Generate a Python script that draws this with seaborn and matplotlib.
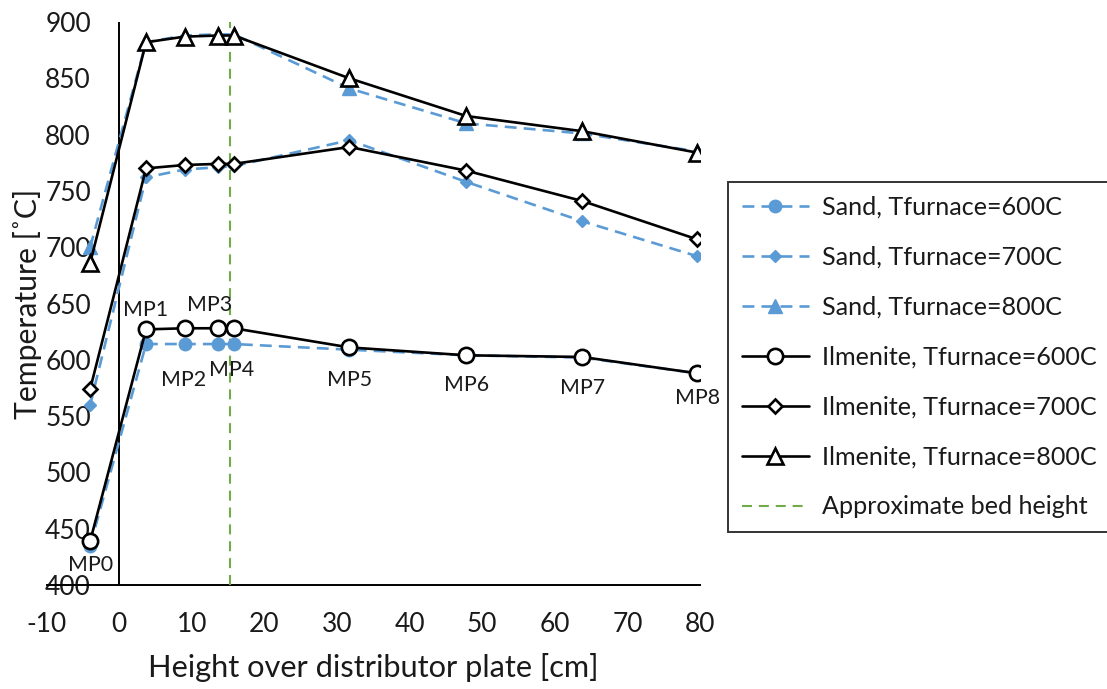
import matplotlib
matplotlib.use("Agg")
import matplotlib.pyplot as plt
import seaborn as sns
import pandas as pd

# ---- data ----
height_cm = [-4, 3.7, 9, 13.6, 15.8, 31.7, 47.8, 63.8, 79.6]
mp_labels = ["MP0", "MP1", "MP2", "MP3", "MP4", "MP5", "MP6", "MP7", "MP8"]
sand_600 = [435, 614, 614, 614, 614, 609, 604, 602, 588]
sand_700 = [560, 762, 769, 771, 772, 795, 758, 723, 692]
sand_800 = [700, 882, 888, 889, 889, 841, 810, 801, 785]
ilm_600 = [439, 627, 628, 628, 628, 611, 604, 602.5, 588]
ilm_700 = [574, 770, 773, 774, 774, 789, 768, 741, 707]
ilm_800 = [686, 882, 887, 888, 888, 850, 816.5, 803, 784]
bed_height = 15.3
x_ticks = list(range(-10, 81, 10))
y_ticks = list(range(400, 901, 50))

sns.set_theme(style="white")
plt.rcParams["font.family"] = ["Lato", "DejaVu Sans"]
plt.rcParams["axes.unicode_minus"] = False

BLUE = "#5B9BD5"
GREEN = "#70AD47"
TXT = "#1a1a1a"
DPI = 100
PX = 72.0 / DPI  # points per pixel

W, H = 1107, 689
fig = plt.figure(figsize=(W / DPI, H / DPI), dpi=DPI)
ax_l, ax_r, ax_t, ax_b = 46.6, 700.0, 22.0, 585.0
ax = fig.add_axes([ax_l / W, 1 - ax_b / H, (ax_r - ax_l) / W, (ax_b - ax_t) / H])

sand = [("Sand, Tfurnace=600C", sand_600, "o", 9),
        ("Sand, Tfurnace=700C", sand_700, "D", 6.5),
        ("Sand, Tfurnace=800C", sand_800, "^", 10)]
ilm = [("Ilmenite, Tfurnace=600C", ilm_600, "o", 11),
       ("Ilmenite, Tfurnace=700C", ilm_700, "D", 7.5),
       ("Ilmenite, Tfurnace=800C", ilm_800, "^", 12)]

for name, vals, mk, ms in sand:
    df = pd.DataFrame({"x": height_cm, "y": vals})
    sns.lineplot(data=df, x="x", y="y", ax=ax, color=BLUE, linestyle=(0, (4.5, 2.7)),
                 linewidth=1.9, marker=mk, markersize=ms, markerfacecolor=BLUE,
                 markeredgecolor=BLUE, markeredgewidth=1, label=name, sort=False, zorder=3)

for name, vals, mk, ms in ilm:
    df = pd.DataFrame({"x": height_cm, "y": vals})
    sns.lineplot(data=df, x="x", y="y", ax=ax, color="black", linestyle="-",
                 linewidth=1.9, marker=mk, markersize=ms, markerfacecolor="white",
                 markeredgecolor="black", markeredgewidth=1.9, label=name,
                 sort=False, zorder=4)

ax.axvline(bed_height, color=GREEN, linestyle=(0, (4.8, 3.3)), linewidth=1.5,
           label="Approximate bed height", zorder=2)
ax.axvline(0, color="black", linewidth=1.4, zorder=1)

# data labels (MP0..MP8) on the Ilmenite 600C series
offsets = [(0, -24), (0, 19), (-1, -52), (-8, 23), (-2, -42), (0, -33), (0, -30), (0, -31), (0, -25)]
mp_texts = []
for xv, yv, lab, off in zip(height_cm, ilm_600, mp_labels, offsets):
    t = ax.annotate(lab, (xv, yv), xytext=off, textcoords="offset pixels",
                    ha="center", va="center", fontsize=16, color=TXT, zorder=6)
    mp_texts.append(t)

ax.set_xlim(-10, 80)
ax.set_ylim(400, 900)
ax.set_xticks(x_ticks)
ax.set_yticks(y_ticks)
ax.set_xticklabels([str(v) for v in x_ticks])
ax.set_yticklabels([str(v) for v in y_ticks])
for s in ["top", "right", "left"]:
    ax.spines[s].set_visible(False)
ax.spines["bottom"].set_color("black")
ax.spines["bottom"].set_linewidth(1.4)
ax.spines["bottom"].set_zorder(1)
ax.tick_params(axis="both", length=0, labelsize=20, colors=TXT)
ax.set_xlabel("Height over distributor plate [cm]", fontsize=22, color=TXT)
ax.set_ylabel("Temperature [˚C]", fontsize=22, color=TXT)
ax.grid(False)


def renderer():
    fig.canvas.draw()
    return fig.canvas.get_renderer()


# ---- fit text sizes to the reference's measured text extents ----
def fit(texts, sample, target_px, use_height=False):
    r = renderer()
    bb = sample.get_window_extent(r)
    w = bb.height if use_height else bb.width
    size = sample.get_fontsize() * target_px / w
    for t in texts:
        t.set_fontsize(size)
    return size


ytl = ax.get_yticklabels()
xtl = ax.get_xticklabels()
tick_size = fit(ytl + xtl, ytl[-1], 46)          # "900" is 46 px wide
fit([ax.xaxis.label], ax.xaxis.label, 450)
fit([ax.yaxis.label], ax.yaxis.label, 230, use_height=True)
fit(mp_texts, mp_texts[5], 45)

# tick label placement: y labels inside plot, right edge at x=91px; x labels centred ~625px
ax.tick_params(axis="y", labelsize=tick_size, pad=-(91 - ax_l) * PX)
ax.tick_params(axis="x", labelsize=tick_size, pad=0)
r = renderer()
bb = ax.get_xticklabels()[-1].get_window_extent(r)
cur_center = H - (bb.y0 + bb.y1) / 2
ax.tick_params(axis="x", pad=(625 - cur_center) * PX)

# axis label positions
ax.xaxis.label.set_va("center")
ax.xaxis.set_label_coords(0.5, (ax_b - 668) / (ax_b - ax_t))
ax.yaxis.label.set_va("center")
ax.yaxis.set_label_coords((28 - ax_l) / (ax_r - ax_l), 0.5)


# ---- legend, tuned to the reference's box ----
def make_legend(fs, ls, bp):
    lg = ax.legend(loc="upper left", bbox_to_anchor=(728 / W, 1 - 182 / H),
                   bbox_transform=fig.transFigure, fontsize=fs, frameon=True,
                   fancybox=False, edgecolor="black", handlelength=2.7,
                   handletextpad=0.5, labelspacing=ls, borderpad=bp, borderaxespad=0)
    lg.get_frame().set_linewidth(1.4)
    for t in lg.get_texts():
        t.set_color(TXT)
    return lg


fs, ls, bp = 18.0, 1.0, 0.6
leg = make_legend(fs, ls, bp)
r = renderer()
fs = fs * 275 / leg.get_texts()[3].get_window_extent(r).width
leg.remove()
leg = make_legend(fs, ls, bp)
r = renderer()
centers = [H - (t.get_window_extent(r).y0 + t.get_window_extent(r).y1) / 2 for t in leg.get_texts()]
spacing = (centers[-1] - centers[0]) / (len(centers) - 1)
fs_px = fs / PX
ls = ls + (50 - spacing) / fs_px
leg.remove()
leg = make_legend(fs, ls, bp)
r = renderer()
first = H - (leg.get_texts()[0].get_window_extent(r).y0 + leg.get_texts()[0].get_window_extent(r).y1) / 2
bp = max(0.1, bp + (207 - first) / fs_px)
leg.remove()
leg = make_legend(fs, ls, bp)

fig.savefig("out.png", dpi=DPI)
